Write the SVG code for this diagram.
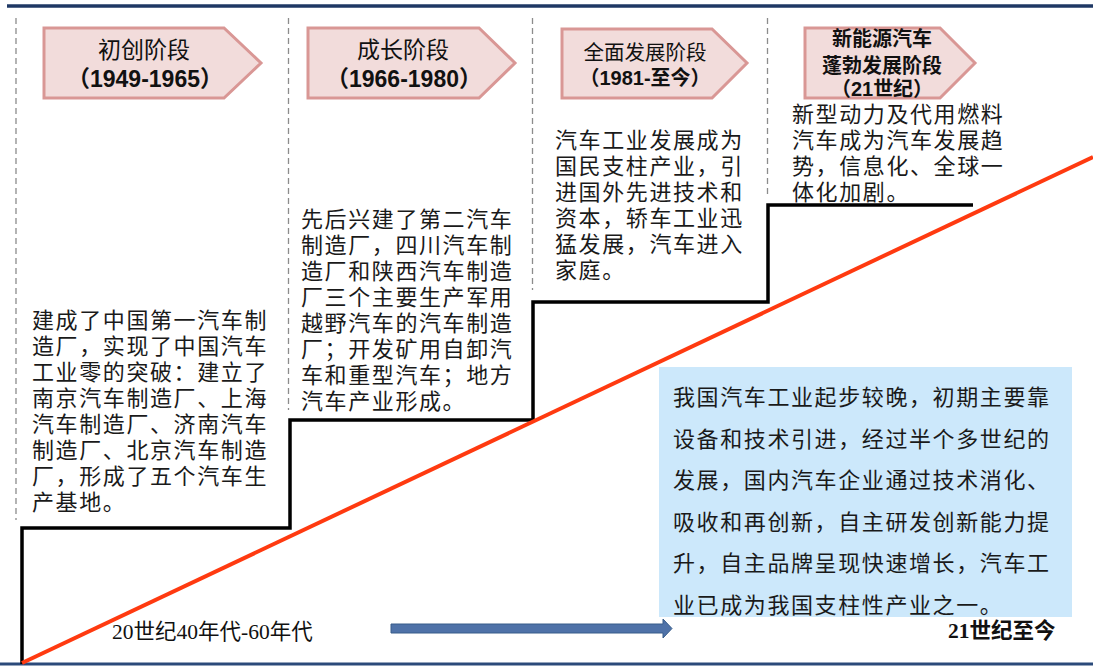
<svg xmlns="http://www.w3.org/2000/svg" width="1093" height="666" viewBox="0 0 1093 666">
<style>
.bg{fill:#ffffff}
.pent{fill:#F2DCDB;stroke:#D99795;stroke-width:3;stroke-linejoin:miter}
.dash{stroke:#8C8C8C;stroke-width:1.3;stroke-dasharray:6 4;fill:none}
.hd{font-family:"Noto Sans CJK SC","Liberation Sans",sans-serif;font-size:23px;fill:#111;text-anchor:middle}
.hdm{font-family:"Noto Sans CJK SC","Liberation Sans",sans-serif;font-size:20.5px;fill:#111;text-anchor:middle}
.hdb{font-family:"Noto Sans CJK SC","Liberation Sans",sans-serif;font-size:20px;font-weight:bold;fill:#111;text-anchor:middle}
.num{font-family:"Liberation Sans","Noto Sans CJK SC",sans-serif;font-size:23px;font-weight:bold;fill:#111;text-anchor:middle}
.body{font-family:"Noto Sans CJK SC",sans-serif;font-size:22px;letter-spacing:1.6px;fill:#1a1a1a}
.axis{font-family:"Liberation Serif","Noto Sans CJK SC",serif;font-size:21.5px;fill:#111}
.step{fill:none;stroke:#000;stroke-width:3.5;stroke-linejoin:miter}
</style>
<rect class="bg" x="0" y="0" width="1093" height="666"/>
<line x1="7" y1="6" x2="1093" y2="6" stroke="#1F3864" stroke-width="3.5"/>
<line x1="0" y1="664" x2="1093" y2="664" stroke="#2B4A7A" stroke-width="3"/>

<g id="dividers">
<line class="dash" x1="16" y1="18" x2="16" y2="520"/>
<line class="dash" x1="288.5" y1="18" x2="288.5" y2="410"/>
<line class="dash" x1="532.5" y1="18" x2="532.5" y2="290"/>
<line class="dash" x1="767.5" y1="18" x2="767.5" y2="196"/>
</g>

<g id="summary-box">
<rect x="659" y="367" width="413" height="250" fill="#CCE8FB"/>
<text class="body" x="673" y="405">
<tspan x="673" y="405">我国汽车工业起步较晚，初期主要靠</tspan>
<tspan x="673" y="446.6">设备和技术引进，经过半个多世纪的</tspan>
<tspan x="673" y="488.2">发展，国内汽车企业通过技术消化、</tspan>
<tspan x="673" y="529.8">吸收和再创新，自主研发创新能力提</tspan>
<tspan x="673" y="571.4">升，自主品牌呈现快速增长，汽车工</tspan>
<tspan x="673" y="613">业已成为我国支柱性产业之一。</tspan>
</text>
</g>

<g id="connectors">
<polyline class="step" points="22,664 22,528 290,528 290,420 533,420 533,302 768,302 768,205 973,205"/>
<line x1="22" y1="663" x2="1093" y2="157" stroke="#FF3A10" stroke-width="4"/>
<path d="M391,624 L663,624 L663,619 L672,628.5 L663,638 L663,633 L391,633 Z" fill="#4F72A8" stroke="#385D8A" stroke-width="1"/>
</g>

<g id="stage1">
<polygon class="pent" points="44,28 224,28 261,63 224,98 44,98"/>
<text class="hd" x="144" y="58">初创阶段</text>
<text class="num" x="145" y="87">（1949-1965）</text>
<text class="body" x="32">
<tspan x="32" y="328.4">建成了中国第一汽车制</tspan>
<tspan x="32" y="354.4">造厂，实现了中国汽车</tspan>
<tspan x="32" y="380.4">工业零的突破：建立了</tspan>
<tspan x="32" y="406.4">南京汽车制造厂、上海</tspan>
<tspan x="32" y="432.4">汽车制造厂、济南汽车</tspan>
<tspan x="32" y="458.4">制造厂、北京汽车制造</tspan>
<tspan x="32" y="484.4">厂，形成了五个汽车生</tspan>
<tspan x="32" y="510.4">产基地。</tspan>
</text>
</g>

<g id="stage2">
<polygon class="pent" points="308,28 479,28 515,63 479,98 308,98"/>
<text class="hd" x="403" y="58">成长阶段</text>
<text class="num" x="404" y="87">（1966-1980）</text>
<text class="body" x="301">
<tspan x="301" y="227.4">先后兴建了第二汽车</tspan>
<tspan x="301" y="253.4">制造厂，四川汽车制</tspan>
<tspan x="301" y="279.4">造厂和陕西汽车制造</tspan>
<tspan x="301" y="305.4">厂三个主要生产军用</tspan>
<tspan x="301" y="331.4">越野汽车的汽车制造</tspan>
<tspan x="301" y="357.4">厂；开发矿用自卸汽</tspan>
<tspan x="301" y="383.4">车和重型汽车；地方</tspan>
<tspan x="301" y="409.4">汽车产业形成。</tspan>
</text>
</g>

<g id="stage3">
<polygon class="pent" points="562,29 712,29 747,63 712,98 562,98"/>
<text class="hdm" x="645" y="59.5">全面发展阶段</text>
<text class="hdb" x="645" y="84.5">（<tspan font-family="Liberation Sans">1981-</tspan>至今）</text>
<text class="body" x="555">
<tspan x="555" y="148.4">汽车工业发展成为</tspan>
<tspan x="555" y="174.4">国民支柱产业，引</tspan>
<tspan x="555" y="200.4">进国外先进技术和</tspan>
<tspan x="555" y="226.4">资本，轿车工业迅</tspan>
<tspan x="555" y="252.4">猛发展，汽车进入</tspan>
<tspan x="555" y="278.4">家庭。</tspan>
</text>
</g>

<g id="stage4">
<polygon class="pent" points="805,28 940,28 975,63 940,98 805,98"/>
<text class="hdb" x="882" y="45.6">新能源汽车</text>
<text class="hdb" x="882" y="72.6">蓬勃发展阶段</text>
<text class="hdb" x="882" y="95.6">（<tspan font-family="Liberation Sans">21</tspan>世纪）</text>
<text class="body" x="792">
<tspan x="792" y="122.4">新型动力及代用燃料</tspan>
<tspan x="792" y="148.4">汽车成为汽车发展趋</tspan>
<tspan x="792" y="174.4">势，信息化、全球一</tspan>
<tspan x="792" y="200.4">体化加剧。</tspan>
</text>
</g>

<g id="axis-labels">
<text class="axis" x="112" y="639">20世纪40年代-60年代</text>
<text class="axis" x="948" y="638" font-weight="bold" font-size="21">21世纪至今</text>
</g>
</svg>
